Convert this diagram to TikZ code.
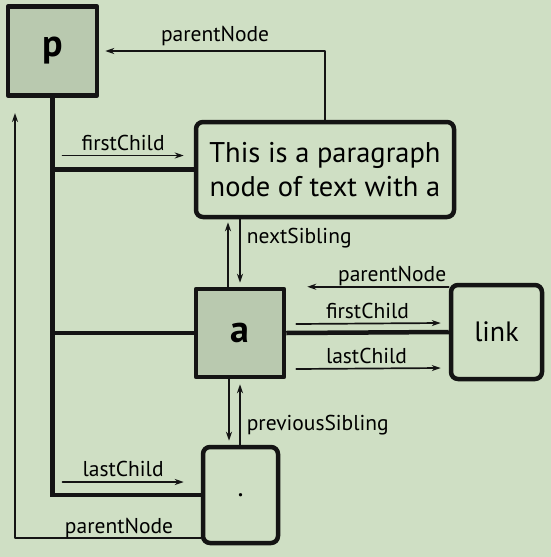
\documentclass[tikz,border=0pt]{standalone}
\usepackage{fontspec}
\setmainfont{PT Sans}
\usetikzlibrary{arrows.meta}
\definecolor{bggreen}{RGB}{207,223,196}
\definecolor{boxgreen}{RGB}{185,201,175}
\definecolor{ink}{RGB}{20,20,20}
\begin{document}
\begin{tikzpicture}[x=1pt, y=-1pt, line cap=round, line join=round, >={Stealth[length=9pt,width=6pt]}, font=\fontsize{21.5}{24}\selectfont]
			\tikzset{elem box/.style={draw=ink, line width=4.5pt, fill=boxgreen, minimum size=88pt, inner sep=0pt, font=\fontsize{38}{40}\selectfont\bfseries},
				text box/.style={draw=ink, line width=4.5pt, rounded corners=7pt, inner sep=0pt, align=center},
				tree/.style={draw=ink, line width=4.5pt, line cap=butt, line join=miter},
				ptr/.style={draw=ink, line width=1.7pt, ->},
				lbl/.style={inner sep=4pt}}
			\fill[bggreen] (0,0) rectangle (551,557);
			\useasboundingbox (0,0) rectangle (551,557);
			\node[elem box, minimum size=89pt] (p) at (52.5,51) {p};
			\node[text box, minimum width=258pt, minimum height=95pt, font=\fontsize{28.5}{34}\selectfont] (par) at (325,169.5) {This is a paragraph\\node of text with a};
			\node[elem box] (a) at (240,333) {a};
			\node[text box, minimum width=91pt, minimum height=94pt, font=\fontsize{28}{30}\selectfont] (link) at (496.5,332) {link};
			\node[text box, minimum width=75pt, minimum height=96pt, font=\fontsize{28}{30}\selectfont] (dot) at (240.5,495) {.};
			\coordinate (j1) at (p.south |- par.west);
			\coordinate (j2) at (p.south |- a.west);
			\coordinate (j3) at (p.south |- dot.west);
			\coordinate (ns) at (a.north |- par.south);
			\coordinate (ps) at (a.south |- dot.north);
			\coordinate (up) at (15,113);
			\draw[tree] (p.south) |- (dot.west);
			\draw[tree] (j1) -- (par.west);
			\draw[tree] (j2) -- (a.west);
			\draw[tree] (a.east) -- (link.west);
			\draw[ptr] (par.north) |- ([xshift=6pt]p.east) node[pos=0.75, above, lbl]{parentNode};
			\draw[ptr] ([xshift=10pt,yshift=14pt]j1) -- ([xshift=-10pt,yshift=14pt]par.west) node[midway, above, lbl]{firstChild};
			\draw[ptr] ([xshift=10pt,yshift=13pt]j3) -- ([xshift=-17pt,yshift=13pt]dot.west) node[midway, above, lbl]{lastChild};
			\draw[ptr] ([yshift=7pt]dot.south west) -| (up) node[pos=0.22, above, inner sep=0pt]{parentNode};
			\draw[ptr] ([xshift=-12pt]a.north) -- ([xshift=-12pt,yshift=-3pt]ns);
			\draw[ptr] (ns) -- ([yshift=4pt]a.north) node[pos=0.3, right, lbl, xshift=2pt]{nextSibling};
			\draw[ptr] ([xshift=-11pt]a.south) -- ([xshift=-11pt,yshift=4pt]ps);
			\draw[ptr] (ps) -- ([yshift=-5pt]a.south) node[pos=0.33, right, lbl, xshift=2pt]{previousSibling};
			\draw[ptr] ([yshift=-4pt]link.north west) -- ([xshift=21pt]a.north east) node[pos=0.4, above, inner sep=0pt]{parentNode};
			\draw[ptr] ([xshift=10pt,yshift=9pt]a.east) -- ([xshift=-8pt,yshift=9pt]link.west) node[pos=0.2, above right, lbl, xshift=-4pt]{firstChild};
			\draw[ptr] ([xshift=10pt,yshift=-36pt]a.east) -- ([xshift=-8pt,yshift=-36pt]link.west) node[pos=0.2, above right, lbl, xshift=-4pt]{lastChild};
		\end{tikzpicture}
\end{document}
